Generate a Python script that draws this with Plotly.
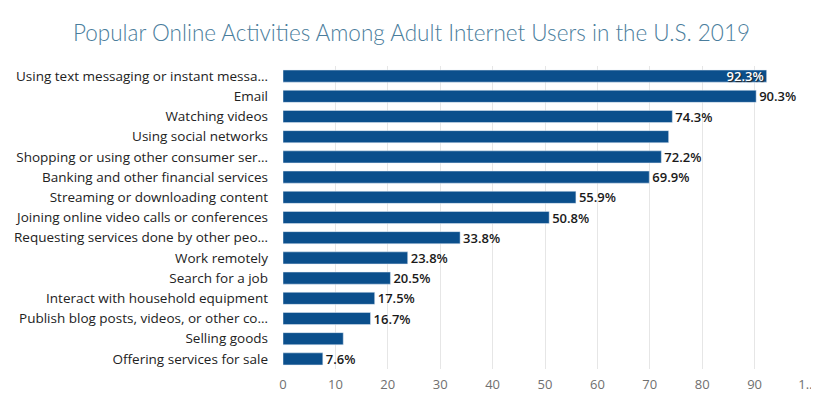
import plotly.graph_objects as go

categories = [
    "Using text messaging or instant messa…",
    "Email",
    "Watching videos",
    "Using social networks",
    "Shopping or using other consumer ser…",
    "Banking and other financial services",
    "Streaming or downloading content",
    "Joining online video calls or conferences",
    "Requesting services done by other peo…",
    "Work remotely",
    "Search for a job",
    "Interact with household equipment",
    "Publish blog posts, videos, or other co…",
    "Selling goods",
    "Offering services for sale",
]
values = [92.3, 90.3, 74.3, 73.6, 72.2, 69.9, 55.9, 50.8, 33.8, 23.8, 20.5, 17.5, 16.7, 11.5, 7.6]
labels = ["92.3%", "90.3%", "74.3%", "", "72.2%", "69.9%", "55.9%", "50.8%", "33.8%",
          "23.8%", "20.5%", "17.5%", "16.7%", "", "7.6%"]
tick_vals = [0, 10, 20, 30, 40, 50, 60, 70, 80, 90, 100]
tick_text = ["0", "10", "20", "30", "40", "50", "60", "70", "80", "90", "1…"]

positions = ["inside" if v > 91 else "outside" for v in values]

fig = go.Figure(go.Bar(
    x=values, y=categories, orientation="h",
    marker=dict(color="#0b4f8c"),
    text=labels, textposition=positions,
    insidetextanchor="end",
    constraintext="none",
    insidetextfont=dict(family="Open Sans", size=13, color="white", weight=600,
                        shadow="1px 1px 1px #222"),
    outsidetextfont=dict(family="Open Sans", size=13, color="#1a1a1a", weight=600,
                         shadow="none"),
    cliponaxis=False,
))

fig.update_layout(
    width=811, height=397,
    margin=dict(l=275, r=12, t=58, b=36),
    paper_bgcolor="white", plot_bgcolor="white",
    bargap=0.4,
    showlegend=False,
    title=dict(
        text="Popular Online Activities Among Adult Internet Users in the U.S. 2019",
        x=0.4975, xanchor="center", y=0.937, yanchor="middle",
        font=dict(family="Lato", size=22.5, color="#4a7d9c", weight=300),
    ),
    xaxis=dict(
        range=[0, 100], tickvals=tick_vals, ticktext=tick_text,
        showgrid=True, gridcolor="#e6e6e6", gridwidth=1,
        zeroline=False, showline=False, automargin=False,
        tickfont=dict(family="Open Sans", size=13, color="#707070"),
        ticks="", ticklabelstandoff=6,
    ),
    yaxis=dict(
        autorange="reversed", showgrid=False, zeroline=False, automargin=False,
        tickfont=dict(family="Open Sans", size=13.5, color="#222222"),
        ticks="", ticklabelstandoff=14,
    ),
)

fig.write_html("out.html")
